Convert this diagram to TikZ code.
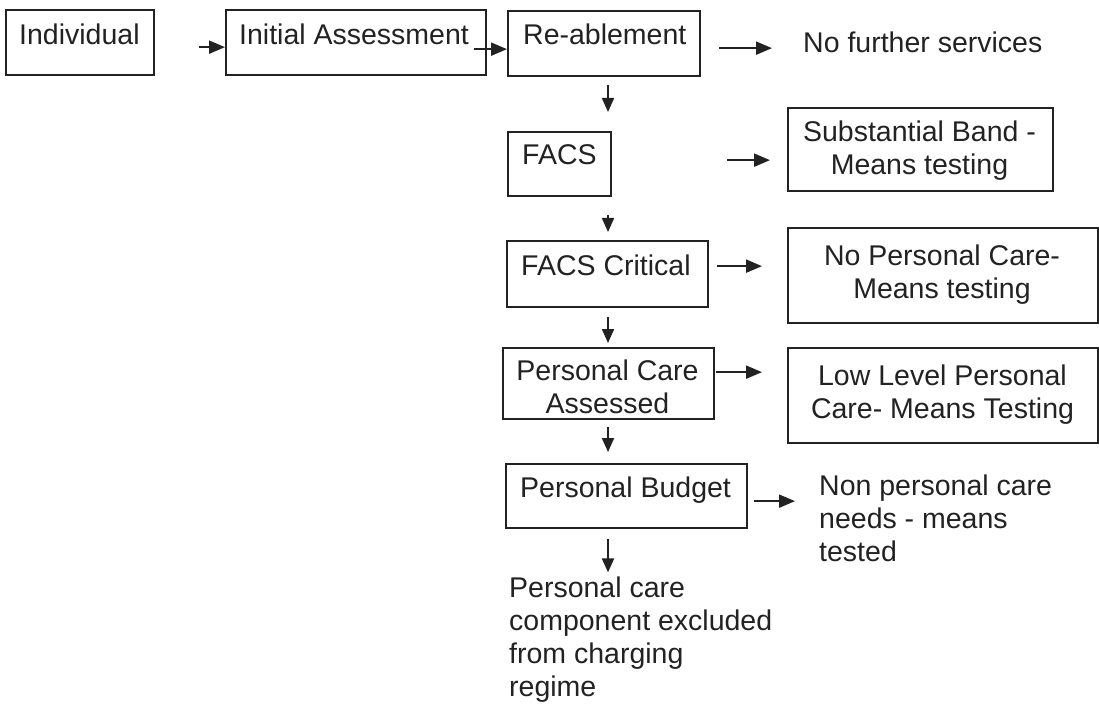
\documentclass[tikz,border=0pt]{standalone}
\usepackage{fontspec}
\setmainfont{Liberation Sans}
\usetikzlibrary{arrows.meta}
\definecolor{ink}{HTML}{222222}
\tikzset{
  box/.style={draw=ink, line width=2.3pt, anchor=north west, inner sep=0pt},
  txt/.style={text=ink, inner sep=0pt, font=\fontsize{28.5}{33}\selectfont},
  arr/.style={draw=ink, line width=2pt, -{Triangle[length=16pt,width=13pt]}},
  varr/.style={draw=ink, line width=2pt, -{Triangle[length=14pt,width=12pt]}},
}
\begin{document}
\begin{tikzpicture}[x=1pt,y=-1pt]
\useasboundingbox (0,0) rectangle (1099,708);
\fill[white] (0,0) rectangle (1099,708);

% boxes
\node[box, minimum width=148pt, minimum height=65pt] (ind)  at (5,9) {};
\node[box, minimum width=260pt, minimum height=65pt] (ini)  at (225,9) {};
\node[box, minimum width=192pt, minimum height=65pt] (rea)  at (507,10) {};
\node[box, minimum width=103pt, minimum height=64pt] (facs) at (507,131) {};
\node[box, minimum width=265pt, minimum height=83pt] (sub)  at (787,107) {};
\node[box, minimum width=201pt, minimum height=66pt] (crit) at (506,240) {};
\node[box, minimum width=310pt, minimum height=95pt] (nopc) at (787,227) {};
\node[box, minimum width=211pt, minimum height=71pt] (pca)  at (502,347) {};
\node[box, minimum width=310pt, minimum height=95pt] (low)  at (787,347) {};
\node[box, minimum width=241pt, minimum height=64pt] (pb)   at (505,463) {};

% texts
\node[txt, anchor=base west] (indT)  at (19,45)  {Individual};
\node[txt, anchor=base west] (iniT)  at (239,45) {Initial Assessment};
\node[txt, anchor=base west] (reaT)  at (523,45) {Re-ablement};
\node[txt, anchor=base west] (nfs)   at (803,53) {No further services};
\node[txt, anchor=base west] (facsT) at (522,165) {FACS};
\node[txt, anchor=base west] (critT) at (521,276) {FACS Critical};
\node[txt, anchor=base west] (pbT)   at (520,497) {Personal Budget};
\node[txt, anchor=north, align=center] (subT)  at (919.5,120.4) {Substantial Band -\\Means testing};
\node[txt, anchor=north, align=center] (nopcT) at (942,244.4) {No Personal Care-\\Means testing};
\node[txt, anchor=north, align=center] (pcaT)  at (607.5,359.4) {Personal Care\\Assessed};
\node[txt, anchor=north, align=center] (lowT)  at (942.5,364.4) {Low Level Personal\\Care- Means Testing};
\node[txt, anchor=north west, align=left] (npc) at (819,474.4) {Non personal care\\needs - means\\tested};
\node[txt, anchor=north west, align=left] (pcc) at (509,576.4) {Personal care\\component excluded\\from charging\\regime};

% horizontal connectors
\coordinate (h1) at ([yshift=-4.5pt]ind.east);
\coordinate (h2) at ([yshift=-6.5pt]ini.east);
\coordinate (h3) at ([yshift=-4.5pt]rea.east);
\coordinate (h4) at ([yshift=4pt]facs.east);
\coordinate (h5) at ([yshift=8pt]crit.east);
\coordinate (h6) at ([yshift=11.5pt]pca.east);
\coordinate (h7) at ([yshift=-5pt]pb.east);
\draw[arr, shorten <=44pt] (h1) -- (h1 -| ini.west);
\draw[arr, shorten <=-13pt] (h2) -- (h2 -| rea.west);
\draw[arr, shorten <=18pt, shorten >=31pt] (h3) -- (h3 -| nfs.west);
\draw[arr, shorten <=115pt, shorten >=17pt] (h4) -- (h4 -| sub.west);
\draw[arr, shorten <=8pt, shorten >=25pt] (h5) -- (h5 -| nopc.west);
\draw[arr, shorten <=1pt, shorten >=25pt] (h6) -- (h6 -| low.west);
\draw[arr, shorten <=6pt, shorten >=24pt] (h7) -- (h7 -| npc.west);

% vertical connectors
\coordinate (col) at (608,0);
\draw[varr, shorten <=8pt, shorten >=19pt] (rea.south -| col) -- (facs.north -| col);
\draw[varr, shorten <=18pt, shorten >=8pt] (facs.south -| col) -- (crit.north -| col);
\draw[varr, shorten <=9pt, shorten >=4pt] (crit.south -| col) -- (pca.north -| col);
\draw[varr, shorten <=7pt, shorten >=11pt] (pca.south -| col) -- (pb.north -| col);
\draw[varr, shorten <=10pt, shorten >=4pt] (pb.south -| col) -- (pcc.north -| col);
\end{tikzpicture}
\end{document}
